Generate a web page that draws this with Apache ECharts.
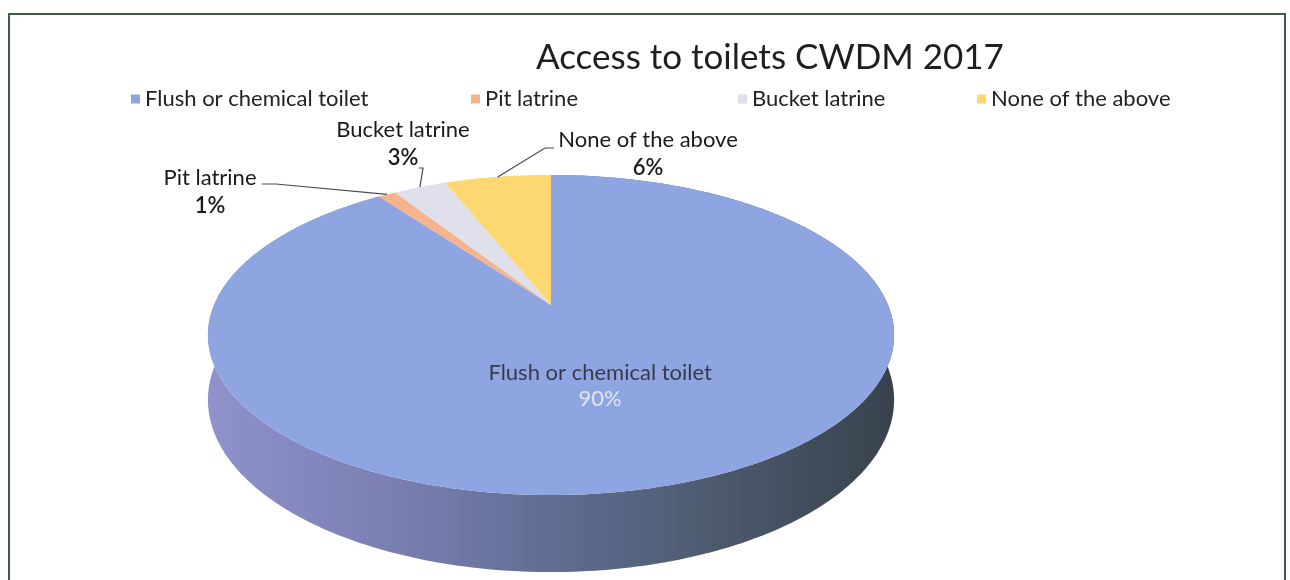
<!DOCTYPE html>
<html>
<head>
<meta charset="utf-8">
<script src="https://cdn.jsdelivr.net/npm/echarts@6/dist/echarts.min.js"></script>
<style>
  html, body { margin: 0; padding: 0; background: #ffffff; }
  #chart { width: 1290px; height: 580px; }
</style>
</head>
<body>
<div id="chart"></div>
<script>
// Categories and their shares (%)
const categories = ['Flush or chemical toilet', 'Pit latrine', 'Bucket latrine', 'None of the above'];
const shares = [90, 1, 3, 6];
const sliceColors = ['#8fa5e2', '#f5b48c', '#dfe0eb', '#fdd76f'];

const total = shares.reduce((a, b) => a + b, 0);
const starts = [];
let running = 0;
shares.forEach(v => { starts.push(running); running += v; });

// Tilted disc with a little perspective: back of the disc is shrunk, front is enlarged
const disc = { cx: 551, cy: 305, rx: 337, ry: 154.4, k: 0.1875, depth: 62.6 };
function project(theta, r, dropped) {
  const c = Math.cos(theta), s = Math.sin(theta);
  const den = 1 + disc.k * r * c;
  const x = disc.cx + disc.rx * r * s / den;
  let y = disc.cy - disc.ry * r * c / den;
  if (dropped) y += disc.depth / (1 + disc.k * c);
  return [x, y];
}

// Where each data label sits and how its leader line bends
const labelLayout = [
  { inside: true, r: 0.5 },
  { x: 210, y: 192, bend: [[276, 184], [262, 184]] },
  { x: 403, y: 144, bend: [[423, 168], [419, 168]] },
  { x: 648, y: 154, bend: [[545, 148], [554, 148]] }
];

const sideGradient = new echarts.graphic.LinearGradient(0, 0, 1, 0, [
  { offset: 0, color: '#8f92cc' },
  { offset: 0.25, color: '#7d80b4' },
  { offset: 0.5, color: '#5f6e93' },
  { offset: 0.75, color: '#4c596c' },
  { offset: 1, color: '#38424d' }
]);
sideGradient.global = true;
sideGradient.x = 205; sideGradient.y = 0; sideGradient.x2 = 895; sideGradient.y2 = 0;

const fontStack = 'Lato, "Noto Sans", sans-serif';
const labelFont = '22px ' + fontStack;

function renderSlice(idx) {
  return function (params, api) {
    const v = api.value(0);
    const s0 = api.value(1);
    const a0 = s0 / total * Math.PI * 2;
    const a1 = (s0 + v) / total * Math.PI * 2;
    const steps = Math.max(2, Math.ceil((a1 - a0) / (Math.PI / 180)));
    const rim = [], rimLow = [];
    for (let j = 0; j <= steps; j++) {
      const t = a0 + (a1 - a0) * j / steps;
      rim.push(project(t, 1, false));
      rimLow.push(project(t, 1, true));
    }
    const color = api.visual('color');
    const children = [];
    // curved outer wall
    children.push({
      type: 'polygon', z2: 1,
      shape: { points: rim.concat(rimLow.slice().reverse()) },
      style: { fill: idx === 0 ? sideGradient : echarts.color.lift(color, -0.3) }
    });
    // top face
    children.push({
      type: 'polygon', z2: 10,
      shape: { points: [project(0, 0, false)].concat(rim) },
      style: { fill: color }
    });
    // label
    const pct = Math.round(v / total * 100) + '%';
    const lay = labelLayout[idx];
    if (lay.inside) {
      const p = project((a0 + a1) / 2, lay.r, false);
      children.push({ type: 'text', z2: 20, x: p[0] - 8, y: p[1] - 13,
        style: { text: categories[idx], font: labelFont, fill: '#1e1e24', align: 'center', verticalAlign: 'middle', opacity: 0.8 } });
      children.push({ type: 'text', z2: 20, x: p[0] - 8, y: p[1] + 13,
        style: { text: pct, font: labelFont, fill: '#e2e5f3', align: 'center', verticalAlign: 'middle' } });
    } else {
      const anchor = project((a0 + a1) / 2, 1, false);
      children.push({ type: 'polyline', z2: 20,
        shape: { points: [anchor].concat(lay.bend) },
        style: { stroke: '#4a4a4a', lineWidth: 1.2, fill: null } });
      children.push({ type: 'text', z2: 20, x: lay.x, y: lay.y - 14,
        style: { text: categories[idx], font: labelFont, fill: '#1a1a1a', align: 'center', verticalAlign: 'middle' } });
      children.push({ type: 'text', z2: 20, x: lay.x, y: lay.y + 14,
        style: { text: pct, font: '600 22px ' + fontStack, fill: '#1a1a1a', align: 'center', verticalAlign: 'middle' } });
    }
    return { type: 'group', children: children };
  };
}

const legendLeft = [126, 466, 733, 972];

const option = {
  backgroundColor: '#ffffff',
  color: sliceColors,
  animation: false,
  title: {
    text: 'Access to toilets CWDM 2017',
    left: 531, top: 35,
    textStyle: { fontFamily: fontStack, fontSize: 35, fontWeight: 'normal', color: '#1f1f1f' }
  },
  legend: categories.map((name, i) => ({
    data: [name],
    left: legendLeft[i], top: 83,
    icon: 'rect', itemWidth: 9, itemHeight: 9, itemGap: 0,
    selectedMode: false,
    textStyle: { fontFamily: fontStack, fontSize: 22, color: '#222' }
  })),
  graphic: [
    { type: 'polyline', shape: { points: [[9, 580], [9, 14], [1285, 14], [1285, 580]] },
      style: { stroke: '#3c5e44', lineWidth: 2, fill: null } }
  ],
  series: categories.map((name, i) => ({
    type: 'custom',
    name: name,
    coordinateSystem: 'none',
    renderItem: renderSlice(i),
    data: [[shares[i], starts[i]]]
  }))
};

const chart = echarts.init(document.getElementById('chart'));
chart.setOption(option);
</script>
</body>
</html>
